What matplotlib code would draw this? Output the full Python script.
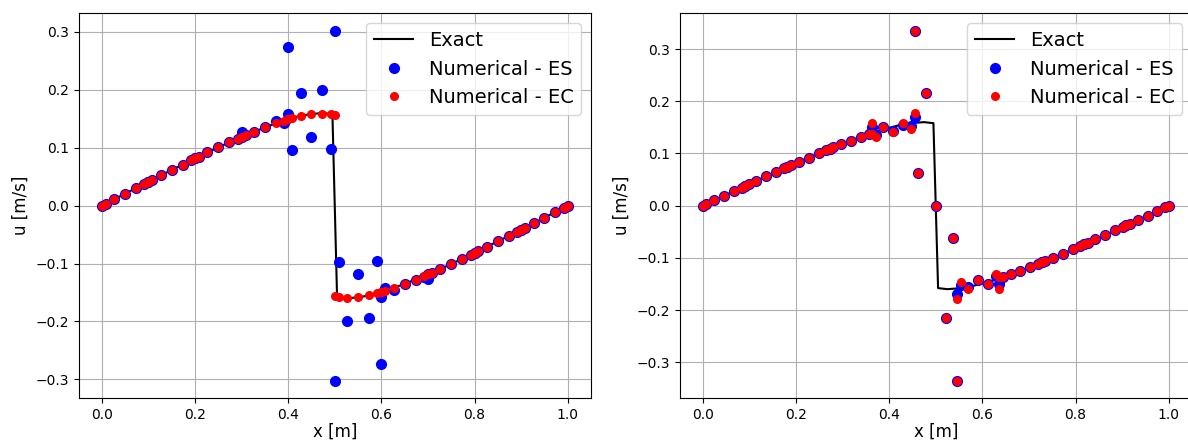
import matplotlib
matplotlib.use('Agg')
import matplotlib.pyplot as plt

# exact solution (same in both panels)
x_exact = [0, 0.025, 0.05, 0.075, 0.1, 0.125, 0.15, 0.175, 0.2, 0.225, 0.25,
           0.275, 0.3, 0.325, 0.35, 0.375, 0.4, 0.425, 0.45, 0.475, 0.495,
           0.505, 0.525, 0.55, 0.575, 0.6, 0.625, 0.65, 0.675, 0.7, 0.725,
           0.75, 0.775, 0.8, 0.825, 0.85, 0.875, 0.9, 0.925, 0.95, 0.975, 1.0]
u_exact = [0, 0.0104, 0.0207, 0.031, 0.0413, 0.0516, 0.0617, 0.0715, 0.0815,
           0.0912, 0.1006, 0.110, 0.1185, 0.127, 0.135, 0.1425, 0.149, 0.155,
           0.1583, 0.16, 0.158,
           -0.158, -0.16, -0.1583, -0.155, -0.149, -0.1425, -0.135, -0.127,
           -0.1185, -0.110, -0.1006, -0.0912, -0.0815, -0.0715, -0.0617,
           -0.0516, -0.0413, -0.031, -0.0207, -0.0104, 0]

# left panel: 10 elements
x_left = [0, 0.0085, 0.0266, 0.05, 0.0734, 0.0915, 0.1,
          0.1, 0.1085, 0.1266, 0.15, 0.1734, 0.1915, 0.2,
          0.2, 0.2085, 0.2266, 0.25, 0.2734, 0.2915, 0.3,
          0.3, 0.3085, 0.3266, 0.35, 0.3734, 0.3915, 0.4,
          0.4, 0.4085, 0.4266, 0.45, 0.4734, 0.4915, 0.5,
          0.5, 0.5085, 0.5266, 0.55, 0.5734, 0.5915, 0.6,
          0.6, 0.6085, 0.6266, 0.65, 0.6734, 0.6915, 0.7,
          0.7, 0.7085, 0.7266, 0.75, 0.7734, 0.7915, 0.8,
          0.8, 0.8085, 0.8266, 0.85, 0.8734, 0.8915, 0.9,
          0.9, 0.9085, 0.9266, 0.95, 0.9734, 0.9915, 1.0]
u_left_es = [0, 0.0035, 0.0111, 0.0207, 0.0304, 0.0378, 0.0413,
             0.0413, 0.0448, 0.0523, 0.0617, 0.0709, 0.0782, 0.0815,
             0.0815, 0.0848, 0.0918, 0.1006, 0.1094, 0.1155, 0.1185,
             0.1267, 0.1225, 0.128, 0.135, 0.146, 0.143, 0.1586,
             0.274, 0.096, 0.194, 0.118, 0.200, 0.098, 0.302,
             -0.302, -0.098, -0.200, -0.118, -0.194, -0.096, -0.274,
             -0.1586, -0.143, -0.146, -0.135, -0.128, -0.1225, -0.1267,
             -0.1185, -0.1155, -0.1094, -0.1006, -0.0918, -0.0848, -0.0815,
             -0.0815, -0.0782, -0.0709, -0.0617, -0.0523, -0.0448, -0.0413,
             -0.0413, -0.0378, -0.0304, -0.0207, -0.0111, -0.0035, 0]
u_left_ec = [0, 0.0035, 0.0111, 0.0207, 0.0304, 0.0378, 0.0413,
             0.0413, 0.0448, 0.0523, 0.0617, 0.0709, 0.0782, 0.0815,
             0.0815, 0.0848, 0.0918, 0.1006, 0.1094, 0.1155, 0.1185,
             0.1185, 0.1213, 0.1276, 0.135, 0.142, 0.1468, 0.149,
             0.149, 0.151, 0.1545, 0.1586, 0.159, 0.1577, 0.1565,
             -0.1565, -0.1577, -0.159, -0.1586, -0.1545, -0.151, -0.149,
             -0.149, -0.1468, -0.142, -0.135, -0.1276, -0.1213, -0.1185,
             -0.1185, -0.1155, -0.1094, -0.1006, -0.0918, -0.0848, -0.0815,
             -0.0815, -0.0782, -0.0709, -0.0617, -0.0523, -0.0448, -0.0413,
             -0.0413, -0.0378, -0.0304, -0.0207, -0.0111, -0.0035, 0]

# right panel: 11 elements
x_right = [0, 0.0077, 0.0241, 0.0455, 0.0668, 0.0832, 0.0909,
           0.0909, 0.0986, 0.1150, 0.1364, 0.1577, 0.1741, 0.1818,
           0.1818, 0.1895, 0.2060, 0.2273, 0.2486, 0.2650, 0.2727,
           0.2727, 0.2804, 0.2969, 0.3182, 0.3395, 0.3559, 0.3636,
           0.3636, 0.3713, 0.3878, 0.4091, 0.4304, 0.4468, 0.4545,
           0.4545, 0.4622, 0.4787, 0.5000, 0.5213, 0.5377, 0.5455,
           0.5455, 0.5532, 0.5696, 0.5909, 0.6122, 0.6287, 0.6364,
           0.6364, 0.6441, 0.6605, 0.6818, 0.7031, 0.7196, 0.7273,
           0.7273, 0.7350, 0.7514, 0.7727, 0.7941, 0.8105, 0.8182,
           0.8182, 0.8259, 0.8423, 0.8636, 0.8850, 0.9014, 0.9091,
           0.9091, 0.9168, 0.9332, 0.9545, 0.9759, 0.9923, 1.0]
u_right_es = [0, 0.0032, 0.0100, 0.0189, 0.0277, 0.0345, 0.0376,
              0.0376, 0.0408, 0.0476, 0.0562, 0.0648, 0.0712, 0.0743,
              0.0743, 0.0773, 0.0839, 0.0920, 0.1001, 0.1061, 0.1088,
              0.1088, 0.1116, 0.1174, 0.1247, 0.1317, 0.1368, 0.139,
              0.150, 0.135, 0.150, 0.143, 0.155, 0.152, 0.169,
              0.335, 0.062, 0.215, 0.0, -0.215, -0.062, -0.335,
              -0.169, -0.152, -0.155, -0.143, -0.150, -0.135, -0.150,
              -0.139, -0.1368, -0.1317, -0.1247, -0.1174, -0.1116, -0.1088,
              -0.1088, -0.1061, -0.1001, -0.0920, -0.0839, -0.0773, -0.0743,
              -0.0743, -0.0712, -0.0648, -0.0562, -0.0476, -0.0408, -0.0376,
              -0.0376, -0.0345, -0.0277, -0.0189, -0.0100, -0.0032, 0]
u_right_ec = [0, 0.0032, 0.0100, 0.0189, 0.0277, 0.0345, 0.0376,
              0.0376, 0.0408, 0.0476, 0.0562, 0.0648, 0.0712, 0.0743,
              0.0743, 0.0773, 0.0839, 0.0920, 0.1001, 0.1061, 0.1088,
              0.1088, 0.1116, 0.1174, 0.1247, 0.1317, 0.1368, 0.137,
              0.159, 0.131, 0.150, 0.142, 0.159, 0.1465, 0.178,
              0.335, 0.062, 0.215, 0.0, -0.215, -0.062, -0.335,
              -0.178, -0.1465, -0.159, -0.142, -0.150, -0.131, -0.159,
              -0.137, -0.1368, -0.1317, -0.1247, -0.1174, -0.1116, -0.1088,
              -0.1088, -0.1061, -0.1001, -0.0920, -0.0839, -0.0773, -0.0743,
              -0.0743, -0.0712, -0.0648, -0.0562, -0.0476, -0.0408, -0.0376,
              -0.0376, -0.0345, -0.0277, -0.0189, -0.0100, -0.0032, 0]


def draw(ax, x, u_es, u_ec):
    ax.plot(x_exact, u_exact, 'k-', linewidth=1.5, label='Exact')
    ax.plot(x, u_es, 'bo', markersize=7, label='Numerical - ES')
    ax.plot(x, u_ec, 'ro', markersize=5.5, label='Numerical - EC')
    ax.set_xlabel('x [m]', fontsize=12, labelpad=1)
    ax.set_ylabel('u [m/s]', fontsize=12)
    ax.grid(True)
    ax.legend(loc='upper right', fontsize=14)


fig = plt.figure(figsize=(11.88, 4.43), dpi=100)
# the right panel runs slightly past the right edge, as in the original
ax1 = fig.add_axes([78.5 / 1188, 45 / 443, 512.5 / 1188, 384.7 / 443])
ax2 = fig.add_axes([679.5 / 1188, 45 / 443, 512.5 / 1188, 384.7 / 443])
draw(ax1, x_left, u_left_es, u_left_ec)
draw(ax2, x_right, u_right_es, u_right_ec)

fig.savefig('out.png', dpi=100)
